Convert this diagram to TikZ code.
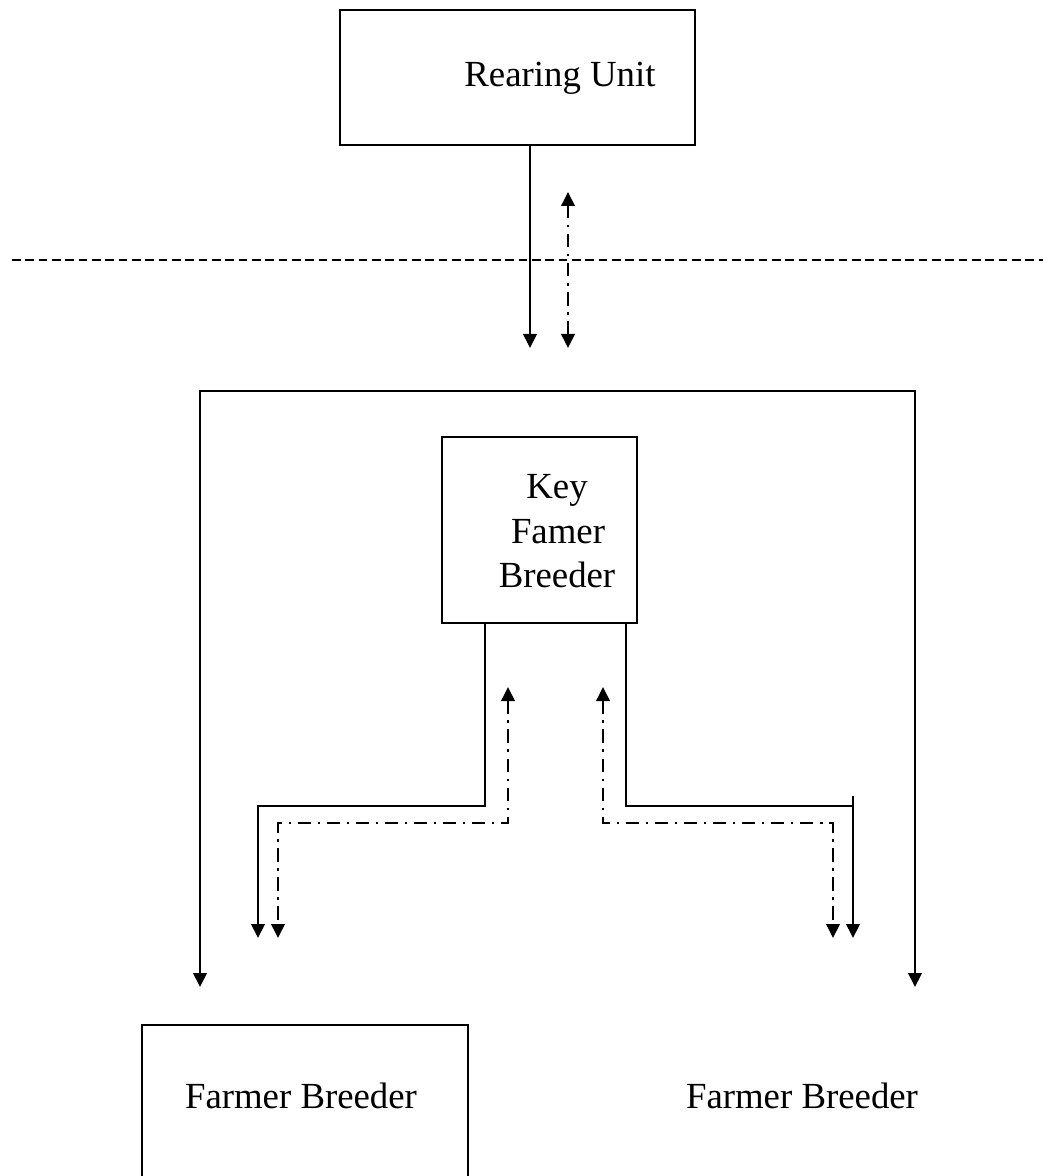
\documentclass[tikz,border=0pt]{standalone}
\usepackage{fontspec}
\setmainfont{Liberation Serif}
\usetikzlibrary{arrows.meta}

\begin{document}
\begin{tikzpicture}[x=0.75pt,y=-0.75pt,
  box/.style={draw,line width=1.8pt,inner sep=0pt,outer sep=0pt},
  lbl/.style={inner sep=0pt,outer sep=0pt,font=\fontsize{27.6}{32}\selectfont},
  head/.tip={Triangle[length=10.5pt,width=10pt]},
  flow/.style={line width=2pt,-head},
  flowboth/.style={line width=2pt,head-head},
  backflow/.style={line width=1.9pt,dash pattern=on 10pt off 5pt on 1.8pt off 5pt,head-head},
  boundary/.style={line width=1.5pt,dash pattern=on 6.5pt off 3.5pt}]

\useasboundingbox (0,0) rectangle (1043,1176);
\clip (0,0) rectangle (1043,1176);

% boxes
\node[box,anchor=north west,minimum width=355*0.75pt,minimum height=135*0.75pt] (ru) at (340,10) {};
\node[box,anchor=north west,minimum width=195*0.75pt,minimum height=186*0.75pt] (kfb) at (442,437) {};
\node[box,anchor=north west,minimum width=326*0.75pt,minimum height=175*0.75pt] (fb1) at (142,1025) {};

% texts
\node[lbl,anchor=base] (ru-t) at (560,87) {Rearing Unit};
\node[lbl,anchor=base] (kfb-t1) at (557,498) {Key};
\node[lbl,anchor=base] (kfb-t2) at (558,543) {Famer};
\node[lbl,anchor=base] (kfb-t3) at (557,587) {Breeder};
\node[lbl,anchor=base] (fb1-t) at (301,1108) {Farmer Breeder};
\node[lbl,anchor=base] (fb2-t) at (802,1108) {Farmer Breeder};

% arrow end points
\coordinate (ruDown) at (530,348);
\coordinate (upTop) at (568,192);
\coordinate (upBot) at (568,348);
\coordinate (leftEnd) at (200,987);
\coordinate (rightEnd) at (915,987);
\coordinate (lA) at (258,938);
\coordinate (lB) at (278,938);
\coordinate (rA) at (833,938);
\coordinate (rB) at (853,938);
\coordinate (lUp) at (508,687);
\coordinate (rUp) at (603,687);

% boundary line
\draw[boundary] (12,260) -- (1043,260);

% links with the rearing unit
\draw[flow] (ru.south -| ruDown) -- (ruDown);
\draw[backflow] (upBot) -- (upTop);

% bracket to both farmer breeders
\draw[flowboth] (leftEnd) |- (915,391) -- (rightEnd);

% links from the key farmer breeder
\draw[flow] (kfb.south -| 485,0) |- (258,806) -- (lA);
\draw[flow] (kfb.south -| 626,0) |- (853,806) -- (rB);
\draw[line width=2pt] (853,796) -- (853,806);
\draw[backflow] (lUp) |- (278,823) -- (lB);
\draw[backflow] (rUp) |- (833,823) -- (rA);
\end{tikzpicture}
\end{document}
